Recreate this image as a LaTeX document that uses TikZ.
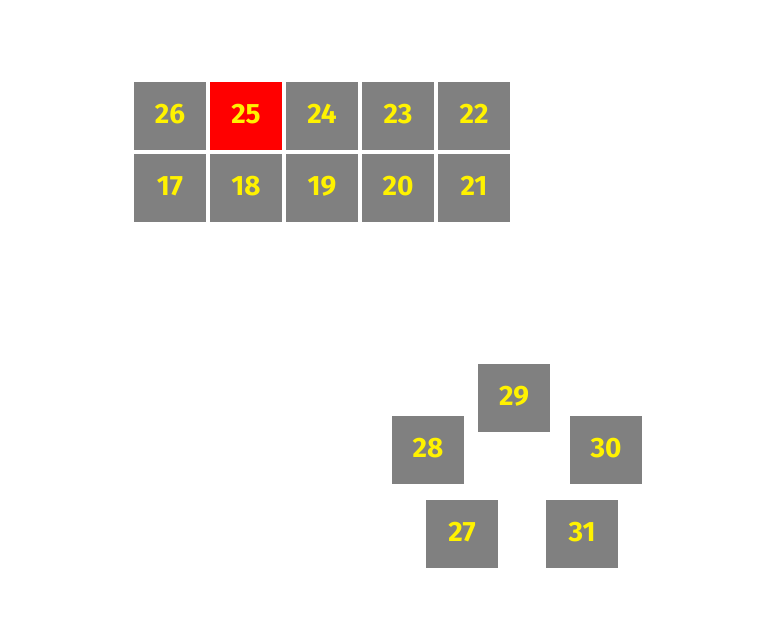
\documentclass[tikz,border=0pt]{standalone}
\usepackage{fontspec}
\setmainfont{Fira Sans}
\usetikzlibrary{positioning}
\tikzset{cell/.style={fill=gray,text=yellow,minimum width=72pt,minimum height=68pt,inner sep=0pt,text depth=4pt,font=\fontsize{28}{28}\selectfont\bfseries}}
\tikzset{hot/.style={cell,fill=red}}

\begin{document}
\begin{tikzpicture}[x=1pt,y=-1pt]
        \useasboundingbox (0,0) rectangle (772,636);
        % upper block
        \node[cell] (n26) at (170,116) {26};
        \node[hot] (n25) at (246,116) {25};
        \node[cell] (n24) at (322,116) {24};
        \node[cell] (n23) at (398,116) {23};
        \node[cell] (n22) at (474,116) {22};
        \node[cell] (n17) at (170,188) {17};
        \node[cell] (n18) at (246,188) {18};
        \node[cell] (n19) at (322,188) {19};
        \node[cell] (n20) at (398,188) {20};
        \node[cell] (n21) at (474,188) {21};
        % lower ring
        \node[cell] (n29) at (514,398) {29};
        \node[cell] (n28) at (428,450) {28};
        \node[cell] (n30) at (606,450) {30};
        \node[cell] (n27) at (462,534) {27};
        \node[cell] (n31) at (582,534) {31};
      \end{tikzpicture}
\end{document}
